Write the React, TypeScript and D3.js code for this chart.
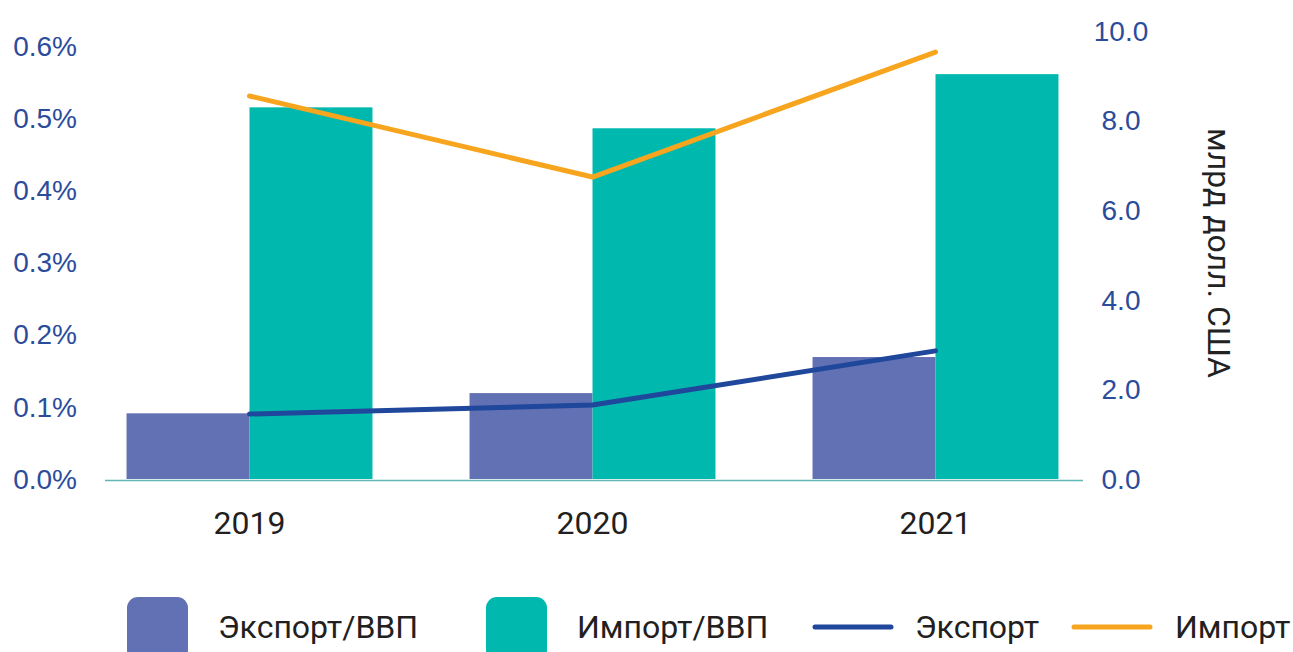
import React from "react";
import * as d3 from "d3";

const years = ["2019", "2020", "2021"];
const exportGdp = [0.091, 0.119, 0.169];
const importGdp = [0.515, 0.486, 0.561];
const exportBn = [1.45, 1.65, 2.86];
const importBn = [8.55, 6.74, 9.53];
const leftTicks = [0, 0.1, 0.2, 0.3, 0.4, 0.5, 0.6];
const rightTicks = [0, 2, 4, 6, 8, 10];
const legendItems = [
  { label: "Экспорт/ВВП", kind: "rect", color: "#6270b4" },
  { label: "Импорт/ВВП", kind: "rect", color: "#00b8ad" },
  { label: "Экспорт", kind: "line", color: "#1f479b" },
  { label: "Импорт", kind: "line", color: "#f7a51e" },
];

const W = 1293;
const H = 652;
const C_PURPLE = "#6270b4";
const C_TEAL = "#00b8ad";
const C_BLUE = "#1f479b";
const C_ORANGE = "#f7a51e";
const C_TICK = "#2b4c9b";

export default function App() {
  const x = d3
    .scaleBand<string>()
    .domain(years)
    .range([78, 1107])
    .paddingInner(0.283)
    .paddingOuter(0.1415);
  const yL = d3.scaleLinear().domain([0, 0.6]).range([479, 46]);
  const yR = d3.scaleLinear().domain([0, 10]).range([479, 31]);
  const bw = x.bandwidth() / 2;
  const cx = (y: string) => (x(y) as number) + x.bandwidth() / 2;

  const line = d3
    .line<number>()
    .x((_, i) => cx(years[i]))
    .y((d) => yR(d));

  const legendX = [127, 486, 813, 1072];
  const legendTextX = [218, 577, 915, 1175];

  return (
    <svg
      width={W}
      height={H}
      style={{ position: "absolute", left: 0, top: 0, background: "#fff" }}
      fontFamily="Roboto, sans-serif"
    >
      {years.map((yr, i) => (
        <g key={yr}>
          <rect
            x={x(yr) as number}
            y={yL(exportGdp[i])}
            width={bw}
            height={yL(0) - yL(exportGdp[i])}
            fill={C_PURPLE}
          />
          <rect
            x={(x(yr) as number) + bw}
            y={yL(importGdp[i])}
            width={bw}
            height={yL(0) - yL(importGdp[i])}
            fill={C_TEAL}
          />
        </g>
      ))}
      <line x1={105} x2={1083} y1={480.5} y2={480.5} stroke="#5fb8b2" strokeWidth={1.5} />
      <path d={line(exportBn) || ""} fill="none" stroke={C_BLUE} strokeWidth={5} strokeLinecap="round" strokeLinejoin="round" />
      <path d={line(importBn) || ""} fill="none" stroke={C_ORANGE} strokeWidth={5} strokeLinecap="round" strokeLinejoin="round" />
      {leftTicks.map((t) => (
        <text
          key={"l" + t}
          x={77}
          y={yL(t)}
          dy="0.35em"
          textAnchor="end"
          fontFamily="'Liberation Sans', Arial, sans-serif"
          fontSize={28}
          fill={C_TICK}
        >
          {t.toFixed(1) + "%"}
        </text>
      ))}
      {rightTicks.map((t) => (
        <text
          key={"r" + t}
          x={1121}
          y={yR(t)}
          dy="0.35em"
          textAnchor="middle"
          fontFamily="'Liberation Sans', Arial, sans-serif"
          fontSize={28}
          fill={C_TICK}
        >
          {t.toFixed(1)}
        </text>
      ))}
      <text
        transform="translate(1219,253) rotate(90)"
        textAnchor="middle"
        dy="0.35em"
        fontSize={32}
        fill="#222"
      >
        млрд долл. США
      </text>
      {years.map((yr) => (
        <text key={"y" + yr} x={cx(yr)} y={523} dy="0.35em" textAnchor="middle" fontSize={32} fill="#231f20">
          {yr}
        </text>
      ))}
      {legendItems.map((it, i) => (
        <g key={it.label}>
          {it.kind === "rect" ? (
            <rect x={legendX[i]} y={597} width={61} height={64} rx={11} fill={it.color} />
          ) : (
            <line
              x1={legendX[i] + 2}
              x2={legendX[i] + 78}
              y1={627}
              y2={627}
              stroke={it.color}
              strokeWidth={5}
              strokeLinecap="round"
            />
          )}
          <text x={legendTextX[i]} y={627} dy="0.35em" fontSize={32} fill="#231f20">
            {it.label}
          </text>
        </g>
      ))}
    </svg>
  );
}
